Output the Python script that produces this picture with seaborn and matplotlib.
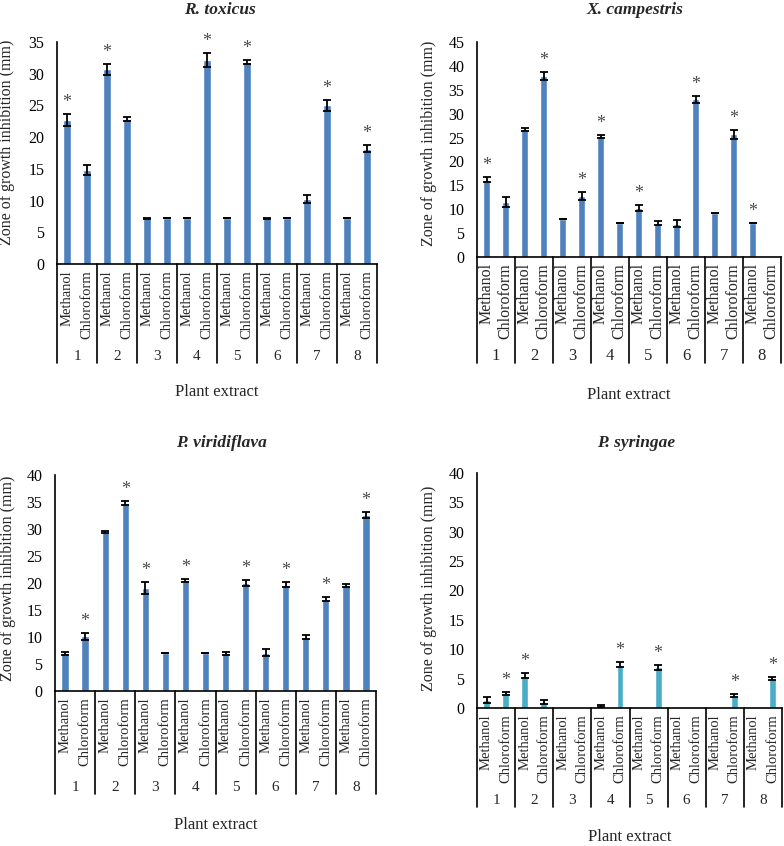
import numpy as np
import pandas as pd
import matplotlib
matplotlib.use("Agg")
import matplotlib.pyplot as plt
import matplotlib.transforms as mtransforms
import seaborn as sns

sns.set_theme(style="white")
plt.rcParams["font.family"] = ["Liberation Serif", "DejaVu Serif"]

## DATA
solvents = ["Methanol", "Chloroform"] * 8
groups = ["1", "2", "3", "4", "5", "6", "7", "8"]

rtox_vals = [22.7, 14.8, 30.7, 22.8, 7.2, 7.2, 7.2, 32.2, 7.2, 31.8, 7.2, 7.2, 10.2, 25.0, 7.2, 18.2]
rtox_err = [0.9, 0.8, 0.9, 0.3, 0.1, 0.0, 0.0, 1.1, 0.0, 0.3, 0.1, 0.0, 0.6, 0.8, 0.0, 0.5]
rtox_star = [0, 2, 7, 9, 13, 15]

xcam_vals = [16.2, 11.5, 26.7, 37.9, 8.0, 12.8, 25.3, 7.2, 10.3, 7.1, 7.0, 33.0, 9.2, 25.7, 7.2, 0.0]
xcam_err = [0.6, 1.0, 0.3, 0.8, 0.0, 0.8, 0.3, 0.0, 0.6, 0.5, 0.8, 0.8, 0.0, 0.9, 0.0, 0.0]
xcam_star = [0, 3, 5, 6, 8, 11, 13, 14]

pvir_vals = [7.0, 10.1, 29.5, 34.8, 19.0, 7.0, 20.5, 7.0, 7.0, 20.0, 7.1, 19.7, 10.0, 17.0, 19.6, 32.6]
pvir_err = [0.3, 0.7, 0.2, 0.4, 1.1, 0.0, 0.3, 0.0, 0.3, 0.6, 0.7, 0.4, 0.3, 0.4, 0.3, 0.6]
pvir_star = [1, 3, 4, 6, 9, 11, 13, 15]

psyr_vals = [1.4, 2.5, 5.5, 1.0, 0.0, 0.0, 0.35, 7.4, 0.0, 6.9, 0.0, 0.0, 0.0, 2.1, 0.0, 5.0]
psyr_err = [0.5, 0.3, 0.4, 0.4, 0.0, 0.0, 0.1, 0.5, 0.0, 0.4, 0.0, 0.0, 0.0, 0.3, 0.0, 0.3]
psyr_star = [1, 2, 7, 9, 13, 15]

BLUE = "#4F81BD"
AQUA = "#4BACC6"
W, H = 784, 846

# layout in pixels: axes left/right/top/bottom, title centre, ylabel coords,
# category font size, offsets below the axis for solvent, group, lines, xlabel
panels = [
    dict(title="R. toxicus", vals=rtox_vals, errs=rtox_err, stars=rtox_star, ymax=35, color=BLUE,
         box=(57, 377, 42, 264), tpos=(220, 10), ylc=(-0.132, 0.55),
         cfs=10.5, offs=(6, 93, 99, 128)),
    dict(title="X. campestris", vals=xcam_vals, errs=xcam_err, stars=xcam_star, ymax=45, color=BLUE,
         box=(477, 781, 42, 257), tpos=(635, 10), ylc=(-0.132, 0.53),
         cfs=11.5, offs=(6, 99, 106, 138)),
    dict(title="P. viridiflava", vals=pvir_vals, errs=pvir_err, stars=pvir_star, ymax=40, color=BLUE,
         box=(55, 376, 475, 691), tpos=(221, 443), ylc=(-0.12, 0.52),
         cfs=10.5, offs=(6, 96, 103, 134)),
    dict(title="P. syringae", vals=psyr_vals, errs=psyr_err, stars=psyr_star, ymax=40, color=AQUA,
         box=(477, 782, 473, 708), tpos=(636, 443), ylc=(-0.132, 0.51),
         cfs=10.5, offs=(6, 92, 99, 129)),
]

fig = plt.figure(figsize=(W / 100, H / 100), dpi=100)

for p in panels:
    l, r, t, b = p["box"]
    ax = fig.add_axes([l / W, 1 - b / H, (r - l) / W, (b - t) / H])
    vals = np.array(p["vals"])
    errs = np.array(p["errs"])
    pos = np.arange(len(vals))
    df = pd.DataFrame({"pos": pos, "value": vals})
    sns.barplot(data=df, x="pos", y="value", color=p["color"], width=0.36,
                saturation=1, ax=ax)
    m = vals > 0
    ax.errorbar(pos[m], vals[m], yerr=errs[m], fmt="none", ecolor="black",
                elinewidth=1.3, capsize=3.2, capthick=1.3, zorder=3)
    star_tr = mtransforms.offset_copy(ax.transData, fig=fig, y=3, units="dots")
    for i in p["stars"]:
        ax.text(i, vals[i] + errs[i], "*", ha="center", va="bottom",
                color="#4a4a4a", fontsize=13, transform=star_tr)

    ax.set_xlim(-0.5, len(vals) - 0.5)
    ax.set_ylim(0, p["ymax"])
    ax.set_yticks(np.arange(0, p["ymax"] + 1, 5))
    ax.tick_params(axis="y", length=0, pad=9, labelsize=11.5, colors="black")
    ax.set_xticks([])
    ax.set_xlabel("")
    ax.set_ylabel("Zone of growth inhibition (mm)", fontsize=11.5)
    ax.yaxis.set_label_coords(*p["ylc"])
    for s in ["top", "right"]:
        ax.spines[s].set_visible(False)
    for s in ["left", "bottom"]:
        ax.spines[s].set_color("black")
        ax.spines[s].set_linewidth(1.2)

    # two-level category axis
    o_sol, o_grp, o_line, o_lab = p["offs"]
    xt = ax.get_xaxis_transform()
    tr = mtransforms.offset_copy(xt, fig=fig, y=-o_sol, units="dots")
    for i, lab in enumerate(solvents):
        ax.text(i, 0, lab, rotation=90, ha="center", va="top",
                fontsize=p["cfs"], transform=tr)
    tr = mtransforms.offset_copy(xt, fig=fig, y=-o_grp, units="dots")
    for g, lab in enumerate(groups):
        ax.text(2 * g + 0.5, 0, lab, ha="center", va="center",
                fontsize=p["cfs"] + 0.5, transform=tr)
    frac = o_line / (b - t)
    for k in range(len(groups) + 1):
        ax.plot([2 * k - 0.5, 2 * k - 0.5], [0, -frac], color="black",
                lw=1.2, transform=xt, clip_on=False)
    tr = mtransforms.offset_copy(xt, fig=fig, y=-o_lab, units="dots")
    ax.text((len(vals) - 1) / 2, 0, "Plant extract", ha="center", va="center",
            fontsize=12, transform=tr)

    tx, ty = p["tpos"]
    fig.text(tx / W, 1 - ty / H, p["title"], ha="center", va="center",
             fontsize=12.5, fontweight="bold", fontstyle="italic")

fig.savefig("out.png", dpi=100)
